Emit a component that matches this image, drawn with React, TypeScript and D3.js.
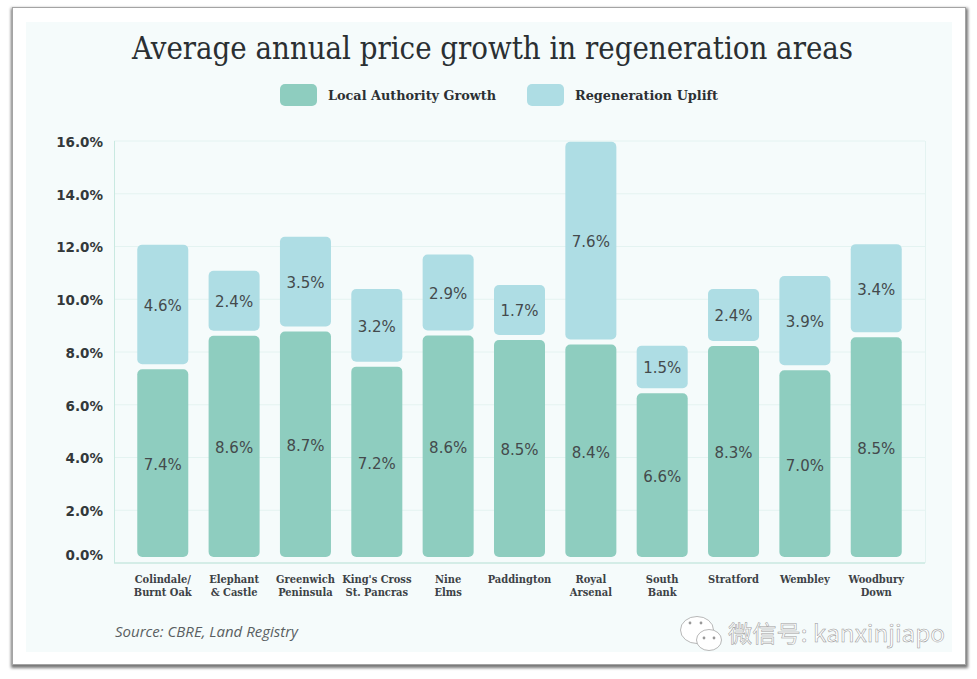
import { useEffect, useRef } from 'react'
import * as d3 from 'd3'

// printed labels
const categories = [
  ['Colindale/', 'Burnt Oak'], ['Elephant', '& Castle'], ['Greenwich', 'Peninsula'],
  ["King's Cross", 'St. Pancras'], ['Nine', 'Elms'], ['Paddington'], ['Royal', 'Arsenal'],
  ['South', 'Bank'], ['Stratford'], ['Wembley'], ['Woodbury', 'Down'],
]
const localLabels = [7.4, 8.6, 8.7, 7.2, 8.6, 8.5, 8.4, 6.6, 8.3, 7.0, 8.5]
const upliftLabels = [4.6, 2.4, 3.5, 3.2, 2.9, 1.7, 7.6, 1.5, 2.4, 3.9, 3.4]

// bar heights as read against the axis (they don't quite agree with the printed labels)
const localTops = [7.44, 8.71, 8.87, 7.54, 8.72, 8.55, 8.38, 6.53, 8.32, 7.40, 8.65]
const totalTops = [12.07, 11.08, 12.37, 10.39, 11.70, 10.54, 15.97, 8.24, 10.39, 10.88, 12.09]

const yTicks = [0, 2, 4, 6, 8, 10, 12, 14, 16]
const legendItems = ['Local Authority Growth', 'Regeneration Uplift']

const W = 977
const H = 679
const C_LOCAL = '#8ecdbf'
const C_UPLIFT = '#aedde4'
const C_GRID = '#e4f3f1'
const C_AXIS = '#c9e9e1'
const C_TEXT = '#444a4c'
const SERIF = '"DejaVu Serif", serif'
const SANS = '"DejaVu Sans", sans-serif'

export default function App() {
  const ref = useRef<SVGSVGElement>(null)

  useEffect(() => {
    if (!ref.current) return
    const svg = d3.select(ref.current)
    svg.selectAll('*').remove()

    const defs = svg.append('defs')
    const f = defs.append('filter').attr('id', 'shadow').attr('x', '-5%').attr('y', '-5%').attr('width', '110%').attr('height', '110%')
    f.append('feGaussianBlur').attr('stdDeviation', 1.6)

    // frame and panel
    svg.append('rect').attr('x', 11).attr('y', 8).attr('width', 957).attr('height', 660)
      .attr('fill', '#777').attr('filter', 'url(#shadow)')
    svg.append('rect').attr('x', 12.5).attr('y', 7.5).attr('width', 953).attr('height', 657)
      .attr('fill', '#fff').attr('stroke', '#a4a4a4')
    svg.append('rect').attr('x', 26).attr('y', 22).attr('width', 926).attr('height', 630).attr('fill', '#f5fbfb')

    const x = d3.scaleBand<number>()
      .domain(d3.range(categories.length))
      .range([114, 925])
      .paddingInner(0.285)
      .paddingOuter(0.326)
    const y = d3.scaleLinear().domain([0, 16]).range([563, 141])

    // grid
    svg.append('g').selectAll('line').data(yTicks.filter(t => t > 0)).join('line')
      .attr('x1', 114).attr('x2', 925)
      .attr('y1', d => y(d)).attr('y2', d => y(d))
      .attr('stroke', C_GRID)
    svg.append('line').attr('x1', 925.5).attr('x2', 925.5).attr('y1', 141).attr('y2', 563).attr('stroke', C_GRID)
    svg.append('line').attr('x1', 114.5).attr('x2', 114.5).attr('y1', 141).attr('y2', 563).attr('stroke', C_AXIS)
    svg.append('line').attr('x1', 114).attr('x2', 925).attr('y1', y(0)).attr('y2', y(0)).attr('stroke', C_AXIS).attr('stroke-width', 1.5)

    // y axis
    const ax = svg.append('g')
      .attr('transform', 'translate(114,0)')
      .call(d3.axisLeft(y).tickValues(yTicks).tickFormat(v => `${(+v).toFixed(1)}%`).tickSize(0).tickPadding(11))
    ax.select('.domain').remove()
    ax.selectAll<SVGTextElement, number>('text')
      .attr('fill', '#33383a').attr('font-size', 13.5).attr('font-weight', 700).attr('font-family', SANS)
      .attr('dy', d => (d === 0 ? '-0.23em' : '0.4em'))

    // bars
    const bars = svg.append('g').selectAll('g').data(categories).join('g')
    bars.append('rect')
      .attr('x', (_, i) => x(i)!).attr('width', x.bandwidth())
      .attr('y', (_, i) => y(localTops[i]) + 2.5)
      .attr('height', (_, i) => y(0) - 6 - y(localTops[i]) - 2.5)
      .attr('rx', 5).attr('fill', C_LOCAL)
    bars.append('rect')
      .attr('x', (_, i) => x(i)!).attr('width', x.bandwidth())
      .attr('y', (_, i) => y(totalTops[i]))
      .attr('height', (_, i) => y(localTops[i]) - 2.5 - y(totalTops[i]))
      .attr('rx', 5).attr('fill', C_UPLIFT)

    const valueLabel = (sel: typeof bars, vals: number[], cy: (i: number) => number) =>
      sel.append('text')
        .attr('x', (_, i) => x(i)! + x.bandwidth() / 2)
        .attr('y', (_, i) => cy(i))
        .attr('dy', '0.36em')
        .attr('text-anchor', 'middle')
        .attr('font-family', SANS).attr('font-size', 15).attr('fill', C_TEXT)
        .text((_, i) => `${vals[i].toFixed(1)}%`)
    valueLabel(bars, localLabels, i => (y(localTops[i]) + 2.5 + y(0) - 6) / 2 + 1.5)
    valueLabel(bars, upliftLabels, i => (y(totalTops[i]) + y(localTops[i]) - 2.5) / 2 + 1)

    // category labels
    bars.append('text')
      .attr('text-anchor', 'middle')
      .attr('font-family', SERIF).attr('font-size', 11).attr('font-weight', 700)
      .style('font-stretch', 'condensed')
      .attr('fill', '#3d4246')
      .each(function (d, i) {
        d3.select(this).selectAll('tspan').data(d).join('tspan')
          .attr('x', x(i)! + x.bandwidth() / 2)
          .attr('y', (_, k) => 583 + k * 13.3)
          .text(t => t)
      })

    // title
    svg.append('text')
      .attr('x', 492.5).attr('y', 59).attr('text-anchor', 'middle')
      .attr('font-family', SERIF).style('font-stretch', 'condensed')
      .attr('font-size', 31).attr('fill', '#2a2f32')
      .attr('textLength', 721).attr('lengthAdjust', 'spacingAndGlyphs')
      .text('Average annual price growth in regeneration areas')

    // legend
    const legendX = [280, 527]
    const legendTextLen = [168, 143]
    legendItems.forEach((name, i) => {
      svg.append('rect').attr('x', legendX[i]).attr('y', 84).attr('width', 37).attr('height', 22)
        .attr('rx', 5).attr('fill', i === 0 ? C_LOCAL : C_UPLIFT)
      svg.append('text').attr('x', legendX[i] + 48).attr('y', 99.5)
        .attr('font-family', SERIF).attr('font-weight', 700).attr('font-size', 13)
        .style('font-stretch', 'condensed')
        .attr('textLength', legendTextLen[i]).attr('lengthAdjust', 'spacingAndGlyphs')
        .attr('fill', '#2c3033').text(name)
    })

    // source
    svg.append('text').attr('x', 115).attr('y', 637)
      .attr('font-family', '"Open Sans", sans-serif').attr('font-style', 'italic').attr('font-size', 15)
      .attr('fill', '#5a5f62').text('Source: CBRE, Land Registry')

    // watermark
    const wm = svg.append('g').attr('fill', '#fff').attr('stroke', '#999').attr('stroke-width', 0.7)
    wm.append('ellipse').attr('cx', 697).attr('cy', 630).attr('rx', 16.5).attr('ry', 13.5)
    wm.append('ellipse').attr('cx', 709).attr('cy', 640).attr('rx', 12.5).attr('ry', 10.5)
    const dots = svg.append('g').attr('fill', '#999')
    ;[[690, 623], [701, 623], [704, 638], [714, 638]].forEach(([cx, cy]) => {
      dots.append('circle').attr('cx', cx).attr('cy', cy).attr('r', 1.4)
    })
    svg.append('text').attr('x', 728).attr('y', 642)
      .attr('font-family', '"Noto Sans CJK SC", sans-serif').attr('font-size', 23)
      .attr('fill', '#fff').attr('stroke', '#999').attr('stroke-width', 0.5)
      .attr('textLength', 217).attr('lengthAdjust', 'spacingAndGlyphs')
      .text('微信号: kanxinjiapo')
  }, [])

  return (
    <div style={{ position: 'absolute', left: 0, top: 0 }}>
      <svg ref={ref} width={W} height={H} style={{ display: 'block' }} aria-label="Average annual price growth in regeneration areas" />
    </div>
  )
}
